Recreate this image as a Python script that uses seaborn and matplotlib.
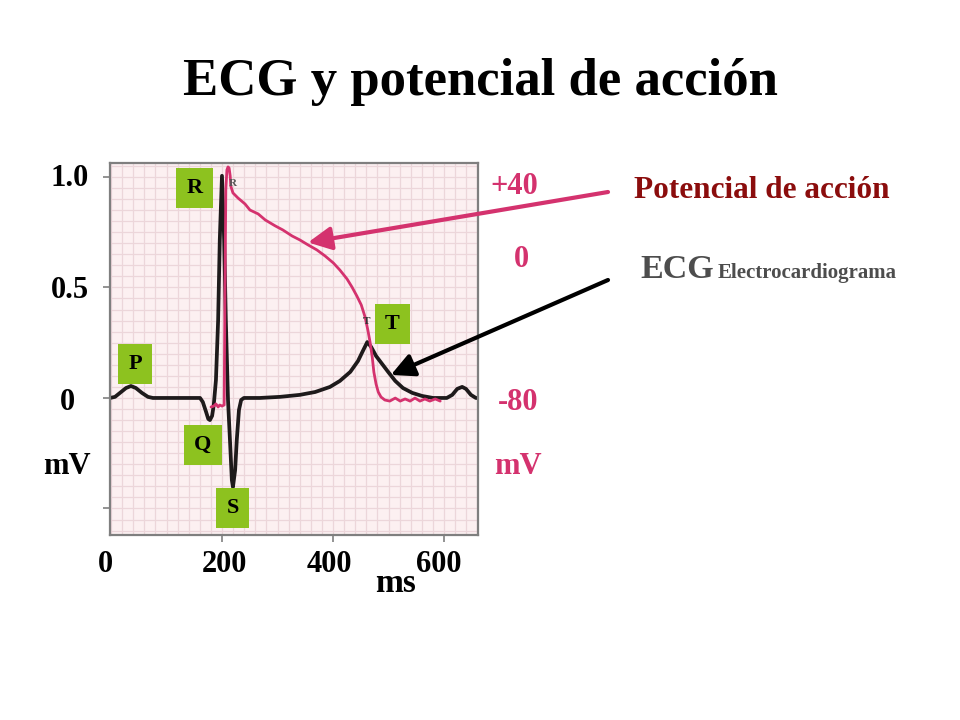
import matplotlib
matplotlib.use('Agg')
import matplotlib.pyplot as plt
from matplotlib.ticker import MultipleLocator
import seaborn as sns

# ECG trace (time in ms, amplitude in mV)
ecg_ms = [13, 22, 31, 42, 51, 60, 71, 82, 91, 177, 182, 188, 192, 195, 199, 202, 206, 210, 213,
          217, 221, 224, 228, 232, 235, 237, 241, 244, 248, 252, 257, 286, 323, 359, 387, 414,
          432, 451, 465, 474, 482, 489, 498, 509, 520, 533, 547, 564, 582, 602, 627, 637, 646,
          655, 662, 671, 680, 684]
ecg_mv = [0, 0.005, 0.023, 0.045, 0.054, 0.045, 0.023, 0.005, 0, 0, -0.018, -0.063, -0.095,
          -0.10, -0.081, -0.032, 0.081, 0.353, 0.715, 1.005, 0.715, 0.353, -0.009, -0.213,
          -0.371, -0.403, -0.326, -0.19, -0.054, -0.009, 0, 0, 0.005, 0.014, 0.027, 0.05, 0.077,
          0.118, 0.167, 0.213, 0.253, 0.231, 0.19, 0.154, 0.118, 0.077, 0.045, 0.023, 0.009, 0,
          0, 0.014, 0.041, 0.05, 0.041, 0.014, 0, 0]

# action potential (time in ms, membrane potential in mV)
ap_ms = [197, 202, 206, 210, 213, 217, 221, 222.5, 224, 226, 228, 230, 232, 233, 237, 246, 259,
         268, 283, 296, 314, 328, 345, 359, 374, 390, 405, 420, 432, 445, 454, 463, 471, 478,
         483, 487, 491, 494, 498, 502, 507, 514, 523, 533, 542, 551, 560, 569, 578, 587, 596,
         606, 615]
ap_mv = [-83.9, -83.4, -82.2, -83.9, -82.8, -83.4, -82.8, -18.2, 38.0, 49.2, 50.9, 50.3, 45.8,
         40.2, 36.3, 33.5, 30.1, 26.7, 24.5, 21.1, 17.8, 15.5, 12.1, 9.9, 7.1, 4.3, 0.9, -3.0,
         -7.0, -12.0, -16.5, -21.6, -26.6, -33.4, -40.7, -47.4, -55.8, -64.3, -71.0, -75.5,
         -78.3, -80.0, -80.6, -78.9, -80.6, -79.4, -80.6, -78.9, -80.6, -79.4, -80.6, -79.4,
         -80.6]

left_labels = ['1.0', '0.5', '0', 'mV']
right_labels = ['+40', '0', '-80', 'mV']
time_labels = ['0', '200', '400', '600']
waves = ['R', 'P', 'Q', 'S', 'T']

PINK = '#d4326e'
GREEN = '#8dc21f'
W, H = 960, 720


def fx(px):
    return px / W


def fy(py):
    return 1 - py / H


sns.set_style('white')
plt.rcParams['font.family'] = ['Liberation Serif', 'DejaVu Serif']
plt.rcParams['font.weight'] = 'bold'
plt.rcParams['text.color'] = 'black'

fig = plt.figure(figsize=(9.6, 7.2), dpi=100)
ax = fig.add_axes([fx(110), fy(535), 368 / W, 372 / H])
ax.set_facecolor('#fcf0f1')

sns.lineplot(x=ecg_ms, y=ecg_mv, ax=ax, color='#1e1a1b', lw=2.7, sort=False)
ax.set_xlim(12.8, 683.9)
ax.set_ylim(-0.62, 1.063)

ax.xaxis.set_minor_locator(MultipleLocator(20.25, offset=14.6))
ax.yaxis.set_minor_locator(MultipleLocator(0.05))
ax.set_xticks([217.1, 419.6, 622.1])
ax.set_yticks([-0.5, 0, 0.5, 1.0])
ax.grid(which='both', color='#ecd6da', lw=0.9)
ax.set_axisbelow(True)
ax.tick_params(which='major', length=5, width=1.2, color='#808080',
               labelleft=False, labelbottom=False, left=True, bottom=True)
ax.tick_params(which='minor', length=0)
for sp in ax.spines.values():
    sp.set_color('#7f7f7f')
    sp.set_linewidth(1.6)
ax.set_xlabel('')
ax.set_ylabel('')

ax2 = ax.twinx()
sns.lineplot(x=ap_ms, y=ap_mv, ax=ax2, color=PINK, lw=2.0, sort=False)
ax2.set_ylim(-155.8, 53.1)
ax2.set_yticks([])
ax2.set_ylabel('')
for sp in ax2.spines.values():
    sp.set_visible(False)

# original image artefacts
fig.text(fx(233), fy(183), 'R', fontsize=8, color='#555555', ha='center', va='center')
fig.text(fx(367), fy(322), 'T', fontsize=8, color='#333333', ha='center', va='center')

# wave labels
wave_pos = [(194.5, 188), (135, 364), (203, 445), (232.5, 508), (392.5, 324)]
for name, (px, py) in zip(waves, wave_pos):
    fig.text(fx(px), fy(py), name, fontsize=16, fontweight='bold', color='black',
             ha='center', va='center',
             bbox=dict(boxstyle='square,pad=0.45', fc=GREEN, ec='none'))

# arrows
arrow = '-|>,head_length=0.7,head_width=0.35'
ax2.annotate('', xy=(374, 8.5), xycoords='data', xytext=(fx(608), fy(192)),
             textcoords='figure fraction', annotation_clip=False,
             arrowprops=dict(arrowstyle=arrow, color=PINK, lw=3, mutation_scale=20,
                             shrinkA=0, shrinkB=0))
ax.annotate('', xy=(525, 0.104), xycoords='data', xytext=(fx(608), fy(280)),
            textcoords='figure fraction', annotation_clip=False,
            arrowprops=dict(arrowstyle=arrow, color='black', lw=3, mutation_scale=20,
                            shrinkA=0, shrinkB=0))

# texts
fig.text(0.5, fy(82), 'ECG y potencial de acción', fontsize=38, fontweight='bold',
         ha='center', va='center')

for lab, (px, py) in zip(left_labels, [(70, 179), (70, 291), (67, 403), (67, 467)]):
    fig.text(fx(px), fy(py), lab, fontsize=22, fontweight='bold', ha='center', va='center')
for lab, (px, py) in zip(right_labels, [(514, 187), (521, 259), (518, 403), (518, 467)]):
    fig.text(fx(px), fy(py), lab, fontsize=22, fontweight='bold', ha='center', va='center',
             color=PINK)
for lab, px in zip(time_labels, [105, 224, 329, 439]):
    fig.text(fx(px), fy(564), lab, fontsize=22, fontweight='bold', ha='center', va='center')
fig.text(fx(396), fy(583), 'ms', fontsize=24, fontweight='bold', ha='center', va='center')

fig.text(fx(634), fy(191), 'Potencial de acción', fontsize=22.5, fontweight='bold',
         color='#8b0d0d', ha='left', va='center')
fig.text(fx(640), fy(278), 'ECG', fontsize=24.5, fontweight='bold', color='#4d4d4d',
         ha='left', va='baseline')
fig.text(fx(718), fy(278), 'Electrocardiograma', fontsize=15, fontweight='bold',
         color='#4d4d4d', ha='left', va='baseline')

fig.savefig('out.png', dpi=100)
